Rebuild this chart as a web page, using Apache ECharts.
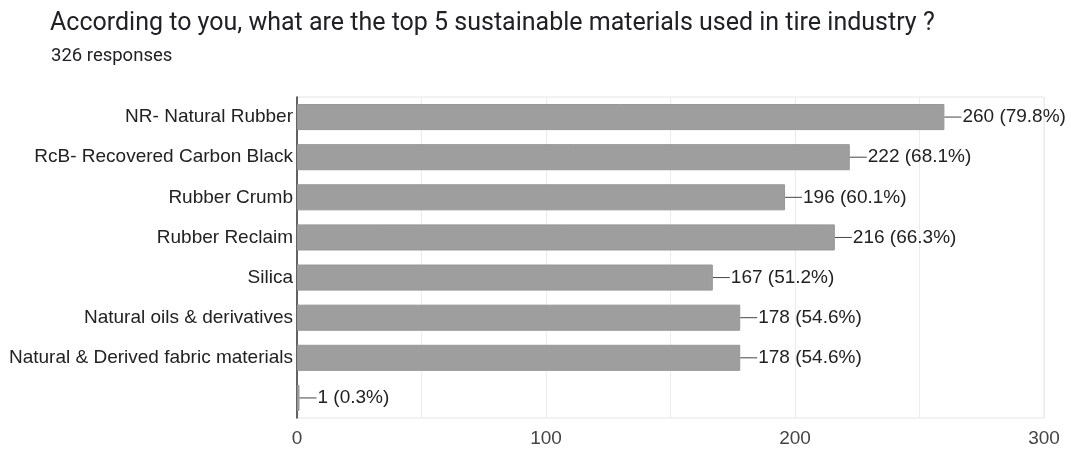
<!DOCTYPE html>
<html>
<head>
<meta charset="utf-8">
<style>
  html, body { margin: 0; padding: 0; background: #fff; }
  #chart { width: 1071px; height: 449px; }
</style>
<script src="https://cdn.jsdelivr.net/npm/echarts@6/dist/echarts.min.js"></script>
</head>
<body>
<div id="chart"></div>
<script>
// Survey answers: materials and number of respondents choosing each
const categories = [
  'NR- Natural Rubber',
  'RcB- Recovered Carbon Black',
  'Rubber Crumb',
  'Rubber Reclaim',
  'Silica',
  'Natural oils & derivatives',
  'Natural & Derived fabric materials',
  ''
];
const counts = [260, 222, 196, 216, 167, 178, 178, 1];
const percents = ['79.8%', '68.1%', '60.1%', '66.3%', '51.2%', '54.6%', '54.6%', '0.3%'];
const xTicks = [0, 100, 200, 300];

const titleText = 'According to you, what are the top 5 sustainable materials used in tire industry ?';
const subtitleText = '326 responses';

const chart = echarts.init(document.getElementById('chart'), null, { renderer: 'canvas' });

const labelFont = '"Liberation Sans", Arial, sans-serif';

chart.setOption({
  animation: false,
  backgroundColor: '#ffffff',
  title: [
    {
      text: titleText,
      left: 45,
      top: 6,
      textStyle: { fontFamily: 'Roboto, sans-serif', fontSize: 25, fontWeight: 'normal', color: '#202124' }
    },
    {
      text: subtitleText,
      left: 46,
      top: 42,
      textStyle: { fontFamily: 'Roboto, sans-serif', fontSize: 18.5, fontWeight: 'normal', color: '#202124' }
    }
  ],
  grid: {
    left: 297, right: 27, top: 97, bottom: 31,
    show: true, borderColor: '#e6e6e6', borderWidth: 1
  },
  xAxis: {
    type: 'value',
    min: 0,
    max: 300,
    interval: 50,
    axisLine: { show: false },
    axisTick: { show: false },
    splitLine: { show: true, lineStyle: { color: '#ececec', width: 1 } },
    axisLabel: {
      margin: 11,
      fontFamily: labelFont,
      fontSize: 19,
      color: '#444',
      formatter: v => (xTicks.indexOf(v) >= 0 ? String(v) : '')
    }
  },
  yAxis: {
    type: 'category',
    inverse: true,
    data: categories,
    axisLine: { show: true, lineStyle: { color: '#333', width: 1.5 } },
    axisTick: { show: false },
    axisLabel: {
      margin: 4,
      fontFamily: labelFont,
      fontSize: 19,
      color: '#222'
    }
  },
  series: [{
    type: 'bar',
    data: counts,
    barCategoryGap: '35%',
    itemStyle: { color: '#9e9e9e', borderColor: '#979797', borderWidth: 1 },
    label: {
      show: true,
      position: 'right',
      distance: 0,
      formatter: p => '{l| }{v|' + p.value + ' (' + percents[p.dataIndex] + ')}',
      rich: {
        l: { width: 17, height: 1, backgroundColor: '#444', verticalAlign: 'middle' },
        v: { fontFamily: labelFont, fontSize: 19, color: '#222', padding: [0, 0, 0, 1] }
      }
    }
  }]
});
</script>
</body>
</html>
